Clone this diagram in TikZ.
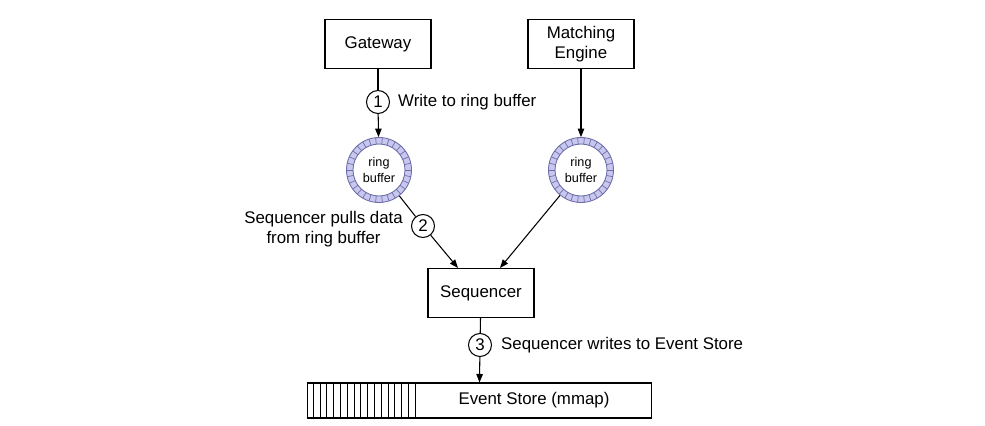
\documentclass[tikz,border=0pt]{standalone}
\usepackage{fontspec}
\setmainfont{Liberation Sans}
\usetikzlibrary{arrows.meta,calc}
\definecolor{ringfill}{RGB}{200,200,238}
\definecolor{ringline}{RGB}{110,110,170}
\begin{document}
\begin{tikzpicture}[x=0.02cm,y=-0.02cm,
    font=\fontsize{9.6}{11.5}\selectfont,
    box/.style={draw,line width=0.6pt,minimum width=2.12cm,minimum height=0.98cm,align=center,inner sep=0pt},
    num/.style={draw,circle,line width=0.6pt,minimum size=0.46cm,inner sep=0pt},
    arr/.style={line width=0.6pt,-{Triangle[length=1.7mm,width=1.3mm]}},
    ringbuf/.style={circle,draw=ringline,fill=ringfill,line width=0.5pt,minimum size=1.3cm,inner sep=0pt,
      align=center,font=\fontsize{7.2}{8.6}\selectfont,
      path picture={
        \fill[white,draw=ringline,line width=0.5pt] (path picture bounding box.center) circle (0.52cm);
        \foreach \a in {0,12,...,359}
          \draw[ringline,line width=0.4pt] ($(path picture bounding box.center)+(\a:0.52cm)$) -- ++(\a:0.14cm);
      }}]
\useasboundingbox (0,0) rectangle (985,426);
% top boxes
\node[box] (gw) at (378,44) {Gateway};
\node[box] (me) at (581,44) {Matching\\Engine};
% ring buffers
\node[ringbuf] (rbgw) at (379,170) {ring\\buffer};
\node[ringbuf] (rbme) at (581,170) {ring\\buffer};
\node[box] (seq) at (481,293) {Sequencer};
% event store
\node[draw,line width=0.6pt,minimum width=6.9cm,minimum height=0.7cm,inner sep=0pt] (es) at (479.5,400.5) {};
\foreach \i in {1,...,16}
  \draw[line width=0.5pt] (es.north west) ++(\i*6.8,0) -- ++(0,35);
\node (estxt) at (534,400.5) {Event Store (mmap)};
% steps
\node[num] (c1) at (378,102) {1};
\node[anchor=west] (t1) at ([xshift=0.04cm]c1.east) {Write to ring buffer};
\node[num] (c2) at (423,226) {2};
\node[anchor=east,align=center] (t2) at ([xshift=-0.04cm,yshift=-0.06cm]c2.west) {Sequencer pulls data\\from ring buffer};
\node[num] (c3) at (480,345) {3};
\node[anchor=west] (t3) at ([xshift=0.06cm]c3.east) {Sequencer writes to Event Store};
% arrows
\draw[line width=0.6pt] (gw) -- (c1);
\draw[arr] (c1) -- (rbgw);
\draw[arr] (me) -- (rbme);
\draw[line width=0.6pt] (rbgw) -- (c2);
\draw[arr] (c2) -- ([xshift=-0.46cm]seq.north);
\draw[arr] (rbme) -- ([xshift=0.38cm]seq.north);
\draw[line width=0.6pt] (seq) -- (c3);
\draw[arr] (c3) -- (es.north);
\end{tikzpicture}
\end{document}
